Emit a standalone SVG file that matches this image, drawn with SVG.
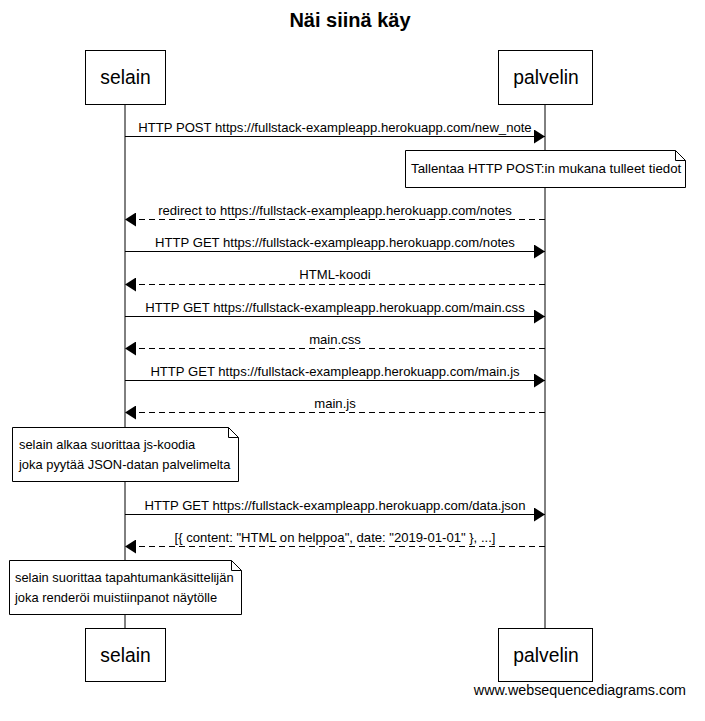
<svg xmlns="http://www.w3.org/2000/svg" width="705" height="721" viewBox="0 0 705 721">
<defs>
<style>
text{font-family:"Liberation Sans",Arial,sans-serif;fill:#000}
.t{font-size:20px;font-weight:bold;text-anchor:middle}
.p{font-size:19.3px;text-anchor:middle}
.m{font-size:13.1px;text-anchor:middle}
.n{font-size:12.9px}
.n1{font-size:13.3px}
.w{font-size:14.3px;text-anchor:end}
.box{fill:#fff;stroke:#000;stroke-width:1}
.life{stroke:#000;stroke-width:1}
.msg{stroke:#000;stroke-width:1;fill:none}
.dash{stroke-dasharray:6,4}
.note{fill:#fff;stroke:#000;stroke-width:1}
</style>
<marker id="ah" markerWidth="12" markerHeight="14" refX="11" refY="7" orient="auto" markerUnits="userSpaceOnUse">
<path d="M0,0 L11,7 L0,14 Z" fill="#000"/>
</marker>
</defs>
<rect width="705" height="721" fill="#fff"/>
<text class="t" x="350" y="27">Näi siinä käy</text>
<g id="lifelines">
<line class="life" x1="125" y1="105" x2="125" y2="628"/>
<line class="life" x1="545" y1="105" x2="545" y2="628"/>
</g>
<g id="selain">
<rect class="box" x="85.5" y="50.5" width="80" height="54"/>
<text class="p" x="125.5" y="84">selain</text>
</g>
<g id="palvelin">
<rect class="box" x="498.5" y="50.5" width="94" height="54"/>
<text class="p" x="546" y="84">palvelin</text>
</g>
<g id="selain-bottom">
<rect class="box" x="85.5" y="628.5" width="80" height="53"/>
<text class="p" x="125.5" y="662">selain</text>
</g>
<g id="palvelin-bottom">
<rect class="box" x="498.5" y="628.5" width="94" height="53"/>
<text class="p" x="546" y="662">palvelin</text>
</g>
<g id="connectors">
<line class="msg" x1="125" y1="136.5" x2="545" y2="136.5" marker-end="url(#ah)"/>
<text class="m" x="335" y="132">HTTP POST https://fullstack-exampleapp.herokuapp.com/new_note</text>
<line class="msg dash" x1="545" y1="219.5" x2="125" y2="219.5" marker-end="url(#ah)"/>
<text class="m" x="335" y="215">redirect to https://fullstack-exampleapp.herokuapp.com/notes</text>
<line class="msg" x1="125" y1="251.5" x2="545" y2="251.5" marker-end="url(#ah)"/>
<text class="m" x="335" y="247">HTTP GET https://fullstack-exampleapp.herokuapp.com/notes</text>
<line class="msg dash" x1="545" y1="284.5" x2="125" y2="284.5" marker-end="url(#ah)"/>
<text class="m" x="335" y="279">HTML-koodi</text>
<line class="msg" x1="125" y1="316.5" x2="545" y2="316.5" marker-end="url(#ah)"/>
<text class="m" x="335" y="312">HTTP GET https://fullstack-exampleapp.herokuapp.com/main.css</text>
<line class="msg dash" x1="545" y1="348.5" x2="125" y2="348.5" marker-end="url(#ah)"/>
<text class="m" x="335" y="344">main.css</text>
<line class="msg" x1="125" y1="380.5" x2="545" y2="380.5" marker-end="url(#ah)"/>
<text class="m" x="335" y="376">HTTP GET https://fullstack-exampleapp.herokuapp.com/main.js</text>
<line class="msg dash" x1="545" y1="412.5" x2="125" y2="412.5" marker-end="url(#ah)"/>
<text class="m" x="335" y="408">main.js</text>
<line class="msg" x1="125" y1="514.5" x2="545" y2="514.5" marker-end="url(#ah)"/>
<text class="m" x="335" y="510">HTTP GET https://fullstack-exampleapp.herokuapp.com/data.json</text>
<line class="msg dash" x1="545" y1="546.5" x2="125" y2="546.5" marker-end="url(#ah)"/>
<text class="m" x="335" y="542">[{ content: "HTML on helppoa", date: "2019-01-01" }, ...]</text>
</g>
<g id="note1">
<path class="note" d="M405.5,150.5 H675.5 L685.5,160.5 V187.5 H405.5 Z M675.5,150.5 V160.5 H685.5"/>
<text class="n1" x="411" y="173">Tallentaa HTTP POST:in mukana tulleet tiedot</text>
</g>
<g id="note2">
<path class="note" d="M12.5,427.5 H228.5 L238.5,437.5 V481.5 H12.5 Z M228.5,427.5 V437.5 H238.5"/>
<text class="n" x="19" y="449">selain alkaa suorittaa js-koodia</text>
<text class="n" x="19" y="469">joka pyytää JSON-datan palvelimelta</text>
</g>
<g id="note3">
<path class="note" d="M9.5,560.5 H231.5 L241.5,570.5 V614.5 H9.5 Z M231.5,560.5 V570.5 H241.5"/>
<text class="n" x="15" y="582">selain suorittaa tapahtumankäsittelijän</text>
<text class="n" x="15" y="602">joka renderöi muistiinpanot näytölle</text>
</g>
<text class="w" x="686" y="695">www.websequencediagrams.com</text>
</svg>
